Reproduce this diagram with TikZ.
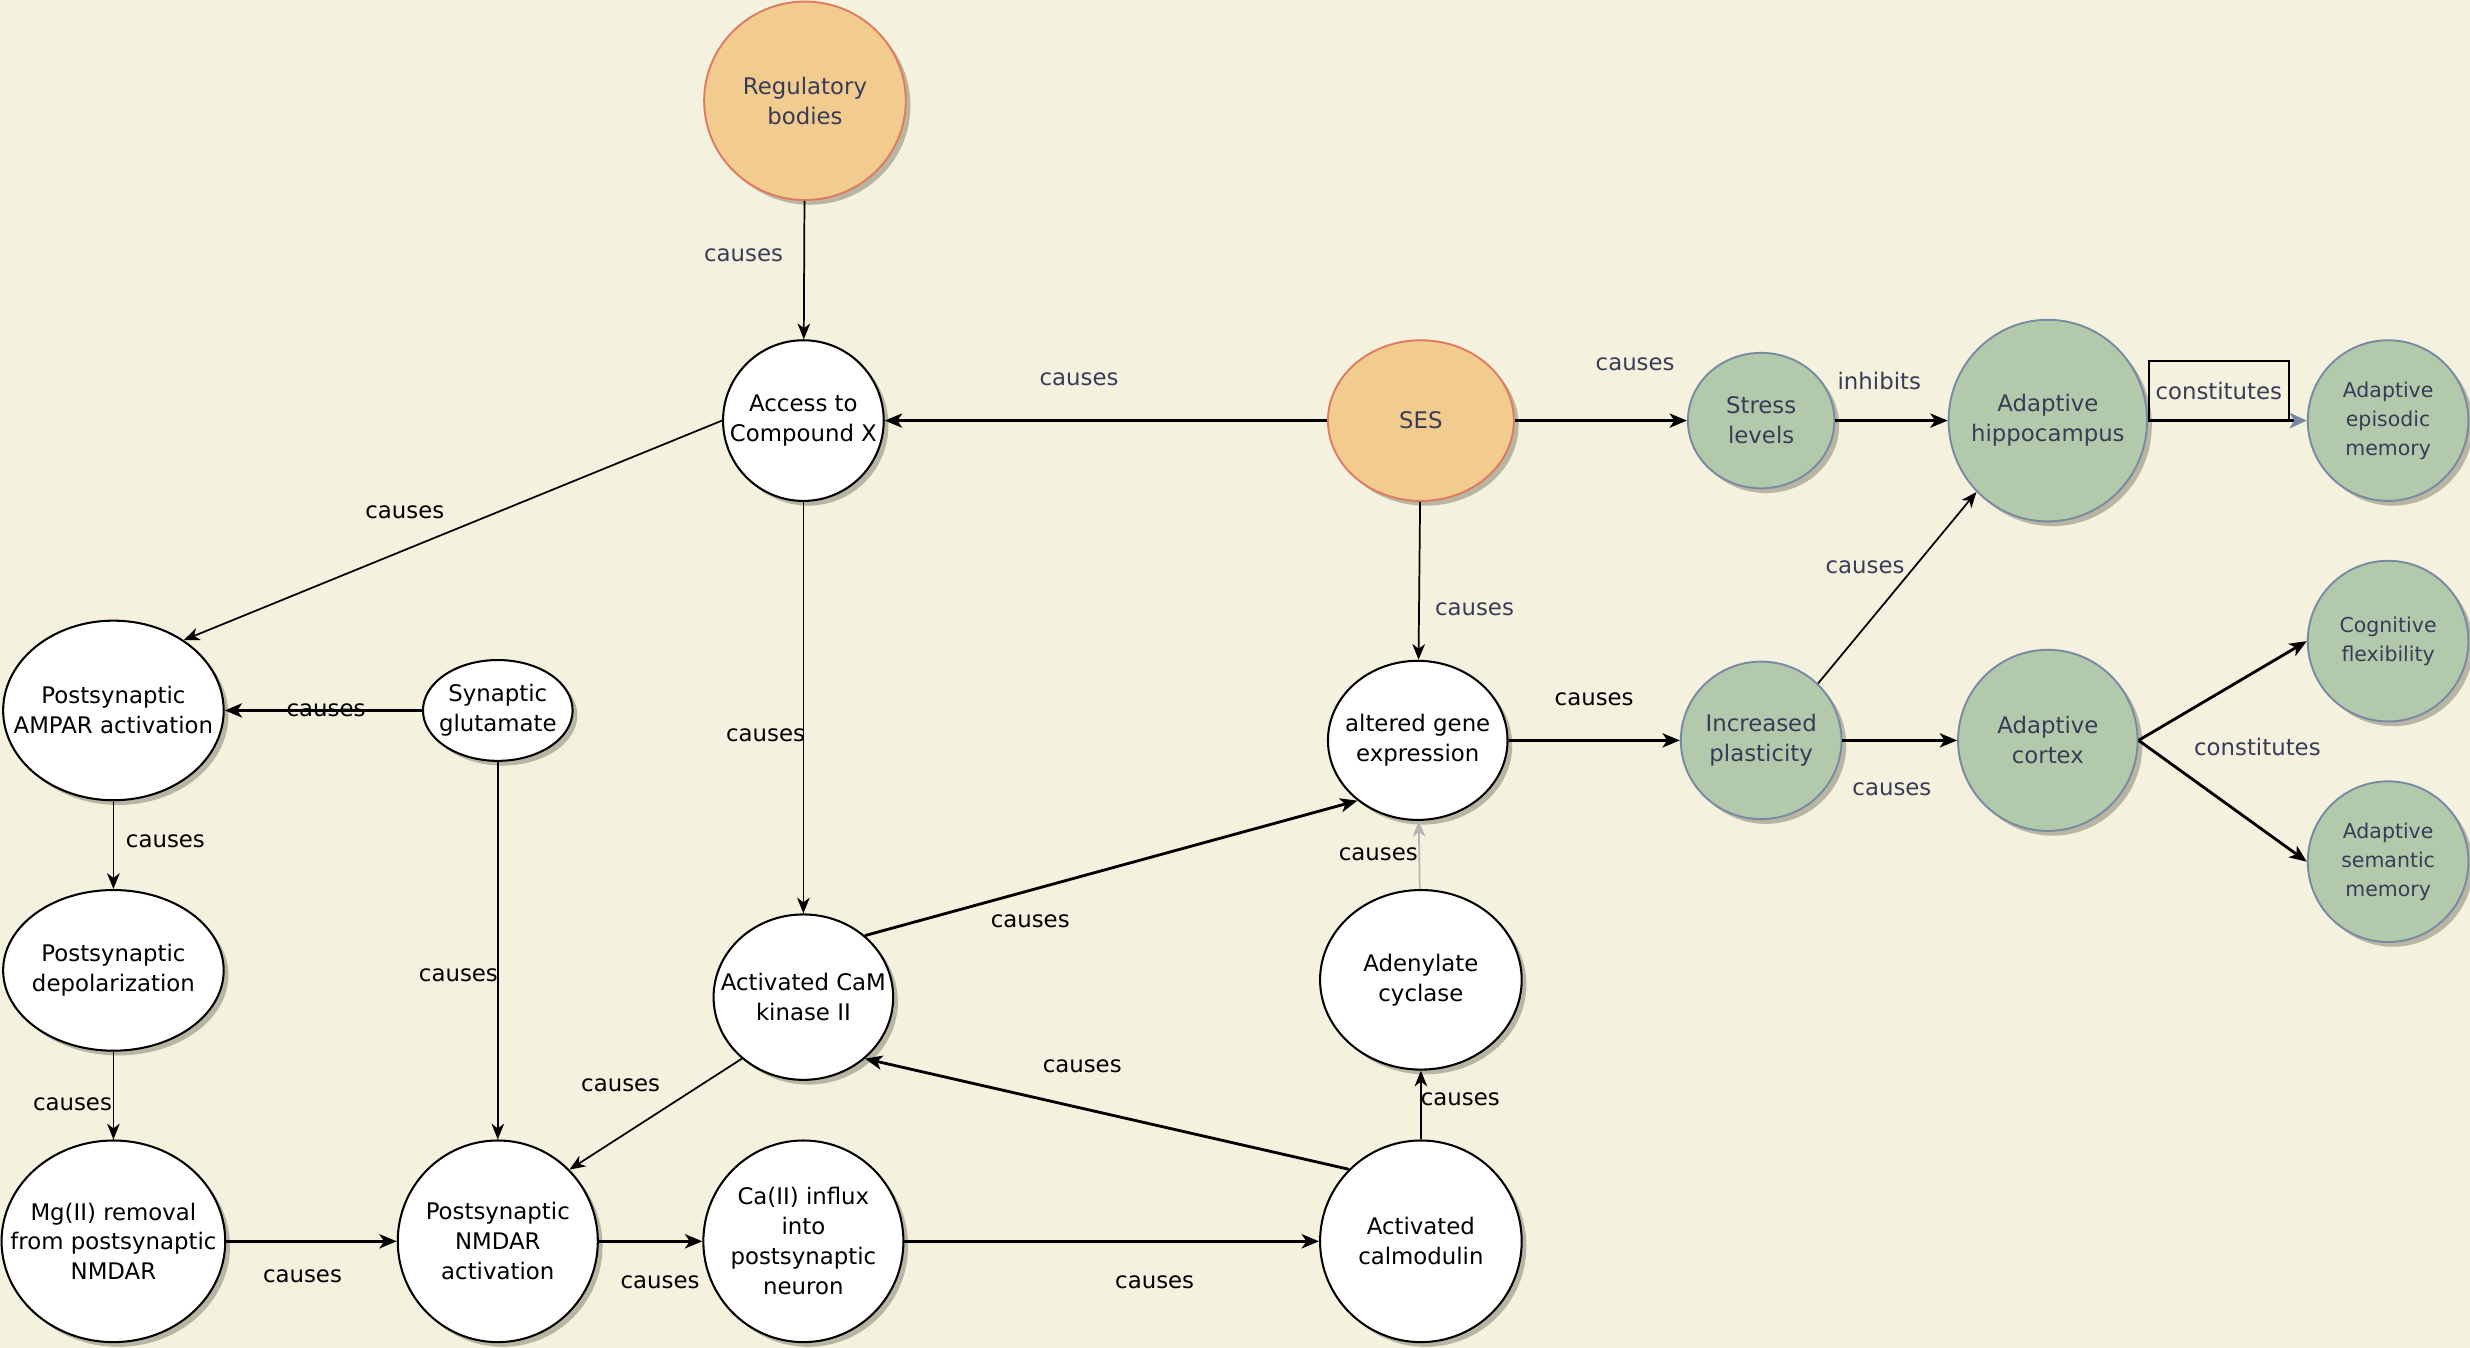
\documentclass[tikz,border=0pt]{standalone}
\usepackage{fontspec}
\setmainfont{DejaVu Sans}
\usetikzlibrary{shapes.geometric,arrows.meta,shadows}
\definecolor{bg}{HTML}{F4F1DE}
\definecolor{ofill}{HTML}{F2CC8F}
\definecolor{ostroke}{HTML}{E07A5F}
\definecolor{gfill}{HTML}{B2C9AB}
\definecolor{gstroke}{HTML}{788AA3}
\definecolor{ftxt}{HTML}{393C56}
\definecolor{shcol}{HTML}{B9B5A3}
\definecolor{lgray}{HTML}{B3B3B3}
\begin{document}
\begin{tikzpicture}[x=1pt,y=-1pt,
  base/.style={ellipse, inner xsep=-45pt, inner ysep=-45pt, align=center,
    font=\fontsize{14.5pt}{19pt}\selectfont,
    drop shadow={shadow xshift=3pt, shadow yshift=-3pt, fill=shcol, opacity=1}},
  wn/.style={base, draw=black, line width=1.3pt, fill=white, text=black},
  on/.style={base, draw=ostroke, line width=1.2pt, fill=ofill, text=ftxt},
  gn/.style={base, draw=gstroke, line width=1.2pt, fill=gfill, text=ftxt},
  smallfont/.style={font=\fontsize{13pt}{18.5pt}\selectfont},
  sz/.style 2 args={minimum width=#1pt, minimum height=#2pt},
  cone/.style={draw=black, line width=1.1pt, -{Stealth[length=10pt,width=8pt,inset=3pt]}},
  ctwo/.style={draw=black, line width=1.8pt, -{Stealth[length=11pt,width=9pt,inset=3pt]}},
  lbl/.style={font=\fontsize{14.5pt}{19pt}\selectfont, text=black, inner sep=1pt},
  lblc/.style={lbl, text=ftxt}]
\fill[bg] (0,0) rectangle (1568,855.7);
\useasboundingbox (0,0) rectangle (1568,855.7);

% nodes
\node[on, sz={128}{126}] (reg) at (511,64) {Regulatory\\bodies};
\node[wn, sz={102}{102}] (acc) at (510,267) {Access to\\Compound X};
\node[on, sz={118}{102}] (ses) at (902,267) {SES};
\node[gn, sz={93}{86}] (str) at (1118,267) {Stress\\levels};
\node[gn, sz={126}{128}] (hip) at (1300,267) {Adaptive\\hippocampus};
\node[gn, smallfont, sz={102}{102}] (epi) at (1516,267) {Adaptive\\episodic\\memory};
\node[gn, smallfont, sz={102}{102}] (cog) at (1516,407) {Cognitive\\flexibility};
\node[gn, smallfont, sz={102}{102}] (sem) at (1516,547) {Adaptive\\semantic\\memory};
\node[gn, sz={114}{115}] (ctx) at (1300,470) {Adaptive\\cortex};
\node[gn, sz={102}{100}] (pla) at (1118,470) {Increased\\plasticity};
\node[wn, sz={114}{101}] (gen) at (900,470) {altered gene\\expression};
\node[wn, sz={128}{114}] (ade) at (902,622) {Adenylate\\cyclase};
\node[wn, sz={128}{128}] (cal) at (902,788) {Activated\\calmodulin};
\node[wn, sz={114}{105}] (cam) at (510,633) {Activated CaM\\kinase II};
\node[wn, sz={127}{128}] (ca) at (510,788) {Ca(II) influx\\into\\postsynaptic\\neuron};
\node[wn, sz={127}{128}] (nmd) at (316,788) {Postsynaptic\\NMDAR\\activation};
\node[wn, sz={142}{128}] (mg) at (72,788) {Mg(II) removal\\from postsynaptic\\NMDAR};
\node[wn, sz={140}{102}] (dep) at (72,616) {Postsynaptic\\depolarization};
\node[wn, sz={140}{114}] (amp) at (72,451) {Postsynaptic\\AMPAR activation};
\node[wn, sz={95}{64}] (glu) at (316,451) {Synaptic\\glutamate};

% connectors
\draw[cone] (reg) -- (acc);
\draw[ctwo] (ses) -- (acc);
\draw[ctwo] (ses) -- (str);
\draw[ctwo] (str) -- (hip);
\draw[draw=black, line width=1.8pt, -{Stealth[length=11pt,width=10pt,inset=3pt,color=gstroke]}] (hip.east) -- (epi.west);
\draw[cone] (ses) -- (gen);
\draw[cone] (acc.west) -- (amp.45);
\draw[cone] (acc) -- (cam);
\draw[ctwo] (glu) -- (amp);
\draw[cone] (glu) -- (nmd);
\draw[cone] (amp) -- (dep);
\draw[cone] (dep) -- (mg);
\draw[ctwo] (mg) -- (nmd);
\draw[ctwo] (nmd) -- (ca);
\draw[ctwo] (ca) -- (cal);
\draw[cone] (cal) -- (ade);
\draw[ctwo] (cal.135) -- (cam.-45);
\draw[cone] (cam.-135) -- (nmd.45);
\draw[ctwo] (cam.45) -- (gen.-135);
\draw[cone, draw=lgray] (ade) -- (gen);
\draw[ctwo] (gen) -- (pla);
\draw[ctwo] (pla) -- (ctx);
\draw[cone] (pla.45) -- (hip.-135);
\draw[ctwo] (ctx.east) -- (cog.west);
\draw[ctwo] (ctx.east) -- (sem.west);

% labels
\node[lblc] (l1) at (472,162) {causes};
\node[lblc] (l2) at (685,241) {causes};
\node[lblc] (l3) at (1038,231) {causes};
\node[lblc] (l4) at (1193,242) {inhibits};
\node[lblc, draw=black, line width=1.3pt, minimum width=89pt, minimum height=38pt] (l5) at (1408.5,248) {constitutes};
\node[lblc] (l6) at (936,387) {causes};
\node[lbl] (l7) at (257,325) {causes};
\node[lbl] (l8) at (486,467) {causes};
\node[lbl] (l9) at (207,451) {causes};
\node[lbl] (l10) at (291,619) {causes};
\node[lbl] (l11) at (105,534) {causes};
\node[lbl] (l12) at (46,701) {causes};
\node[lbl] (l13) at (192,810) {causes};
\node[lbl] (l14) at (419,814) {causes};
\node[lbl] (l15) at (733,814) {causes};
\node[lbl] (l16) at (927,698) {causes};
\node[lbl] (l17) at (687,677) {causes};
\node[lbl] (l18) at (394,689) {causes};
\node[lbl] (l19) at (654,585) {causes};
\node[lbl] (l20) at (875,542) {causes};
\node[lbl] (l21) at (1012,444) {causes};
\node[lblc] (l22) at (1201,501) {causes};
\node[lblc] (l23) at (1184,360) {causes};
\node[lblc] (l24) at (1433,474) {constitutes};
\end{tikzpicture}
\end{document}
